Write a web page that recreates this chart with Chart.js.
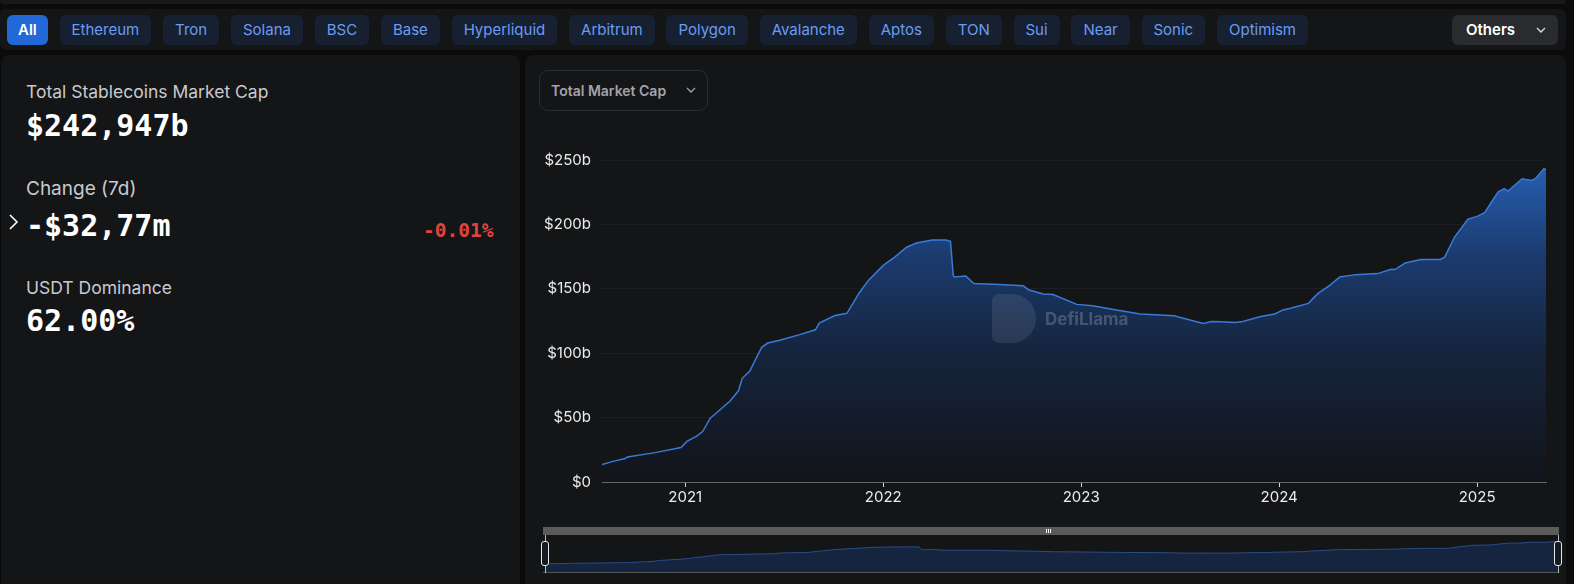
<!DOCTYPE html>
<html>
<head>
<meta charset="utf-8">
<script src="https://cdn.jsdelivr.net/npm/chart.js@4/dist/chart.umd.min.js"></script>
<style>
  html, body { margin: 0; padding: 0; width: 1574px; height: 584px; overflow: hidden; background: #0b0b0c; font-family: Inter, 'Noto Sans', sans-serif; }
  .strip { position: absolute; left: 0; top: 0; width: 1566px; height: 4px; background: #17181a; border-radius: 0 0 6px 6px; }
  .chains { position: absolute; left: 0; top: 9px; width: 1566px; height: 41px; background: #141517; border-radius: 6px; }
  .chains .row { position: absolute; left: 7px; top: 6px; display: flex; gap: 11.8px; }
  .btn { height: 30px; line-height: 30px; padding: 0 12px; border-radius: 6px; background: #172031; color: #6a9cf0; font-size: 15px; white-space: nowrap; }
  .btn.on { background: #2169d6; color: #fff; font-weight: 600; padding: 0 11px; }
  .others { position: absolute; left: 1452px; top: 6px; width: 106px; height: 30px; line-height: 30px; border-radius: 6px; background: #2a2b2e; color: #fff; font-size: 15px; font-weight: 600; }
  .others span { position: absolute; left: 14px; }
  .others svg { position: absolute; left: 84px; top: 11px; }
  .panel { position: absolute; top: 55px; height: 540px; background: #141517; border-radius: 8px; }
  .lbl { position: absolute; left: 26px; font-size: 17.5px; color: #c9cacd; line-height: 20px; white-space: nowrap; }
  .val { position: absolute; left: 26px; font-family: 'DejaVu Sans Mono', monospace; font-weight: bold; font-size: 30px; line-height: 34px; color: #fff; white-space: nowrap; }
  .pct { position: absolute; font-family: 'DejaVu Sans Mono', monospace; font-weight: bold; font-size: 19.5px; line-height: 24px; color: #e0433f; }
  .dropdown { position: absolute; left: 539px; top: 70px; width: 167px; height: 39px; border: 1px solid #2b2c30; border-radius: 9px; color: #a3a4a8; font-size: 14px; font-weight: 600; line-height: 39px; }
  .dropdown span { position: absolute; left: 11px; }
  .dropdown svg { position: absolute; left: 146px; top: 16px; }
  #main { position: absolute; left: 530px; top: 140px; width: 1030px; height: 375px; }
  .mark { position: absolute; left: 992px; top: 294px; pointer-events: none; }
  .mark .logo { position: absolute; left: 0; top: 0; width: 44px; height: 49px; border-radius: 7px 25px 25px 7px; background: rgba(255,255,255,0.09); }
  .mark .name { position: absolute; left: 53px; top: 15px; font-size: 17px; font-weight: 700; color: rgba(255,255,255,0.2); white-space: nowrap; }
  .sbar { position: absolute; left: 543px; top: 527px; width: 1016px; height: 8px; background: #5b5b5c; }
  .sbar i { position: absolute; left: 503px; top: 2px; width: 1px; height: 4px; background: #fff; }
  .sbox { position: absolute; left: 543px; top: 535px; width: 1016px; height: 37px; border-bottom: 1px solid #555; }
  #mini { position: absolute; left: 545px; top: 535px; width: 1013px; height: 37px; }
  .edge { position: absolute; top: 535px; width: 1px; height: 38px; background: #bbb; }
  .handle { position: absolute; top: 541px; width: 6px; height: 23px; border: 1px solid #e8e8e8; border-radius: 3px; background: #161a22; }
</style>
</head>
<body>
<div class="strip"></div>
<div class="chains">
  <div class="row" id="chainRow"></div>
  <div class="others"><span>Others</span><svg width="10" height="8" viewBox="0 0 10 8"><polyline points="1,2 5,6 9,2" fill="none" stroke="#ddd" stroke-width="1.3"/></svg></div>
</div>

<div class="panel" style="left:1px;width:519px;"></div>
<div class="panel" style="left:525px;width:1041px;"></div>

<div class="lbl" style="top:82px;">Total Stablecoins Market Cap</div>
<div class="val" style="top:109px;">$242,947b</div>
<div class="lbl" style="top:179px;font-size:19px;">Change (7d)</div>
<svg style="position:absolute;left:8px;top:214px;" width="12" height="16" viewBox="0 0 12 16"><polyline points="2,1 9,8 2,15" fill="none" stroke="#fff" stroke-width="1.6"/></svg>
<div class="val" style="top:209px;">-$32,77m</div>
<div class="pct" style="top:219px;left:423px;">-0.01%</div>
<div class="lbl" style="top:278px;">USDT Dominance</div>
<div class="val" style="top:304px;">62.00%</div>

<div class="dropdown"><span>Total Market Cap</span><svg width="10" height="7" viewBox="0 0 10 7"><polyline points="1,1 5,5 9,1" fill="none" stroke="#a3a4a8" stroke-width="1.3"/></svg></div>

<div id="main"><canvas id="chart"></canvas></div>
<div class="mark"><div class="logo"></div><div class="name">DefiLlama</div></div>

<div class="sbar"><i></i><i style="left:505px"></i><i style="left:507px"></i></div>
<div class="sbox"></div>
<div id="mini"><canvas id="miniChart"></canvas></div>
<div class="edge" style="left:545px"></div>
<div class="edge" style="left:1558px"></div>
<div class="handle" style="left:541px"></div>
<div class="handle" style="left:1554px"></div>

<script>
const chains = ['All', 'Ethereum', 'Tron', 'Solana', 'BSC', 'Base', 'Hyperliquid', 'Arbitrum', 'Polygon', 'Avalanche', 'Aptos', 'TON', 'Sui', 'Near', 'Sonic', 'Optimism'];

// total stablecoin market cap, billions USD
const dates = [
  '2020-07-31', '2020-08-22', '2020-09-12', '2020-09-16', '2020-11-06', '2020-12-24',
  '2021-01-04', '2021-01-22', '2021-02-02', '2021-02-16', '2021-03-03', '2021-03-25',
  '2021-04-09', '2021-04-16', '2021-04-30', '2021-05-11', '2021-05-22', '2021-06-02',
  '2021-06-24', '2021-07-31', '2021-08-29', '2021-09-05', '2021-10-04', '2021-10-26',
  '2021-11-17', '2021-12-05', '2022-01-01', '2022-01-22', '2022-02-13', '2022-03-03',
  '2022-04-01', '2022-04-27', '2022-05-05', '2022-05-10', '2022-05-12', '2022-06-02',
  '2022-06-17', '2022-08-03', '2022-09-16', '2022-09-27', '2022-10-23', '2022-11-10',
  '2022-12-24', '2023-01-22', '2023-03-07', '2023-04-20', '2023-06-21', '2023-08-14',
  '2023-08-29', '2023-09-16', '2023-10-12', '2023-10-26', '2023-11-28', '2023-12-24',
  '2024-01-08', '2024-01-22', '2024-02-24', '2024-03-13', '2024-04-04', '2024-04-22',
  '2024-05-21', '2024-07-01', '2024-07-26', '2024-08-02', '2024-08-21', '2024-09-19',
  '2024-10-25', '2024-11-02', '2024-11-20', '2024-12-15', '2025-01-01', '2025-01-15',
  '2025-01-26', '2025-02-09', '2025-02-20', '2025-02-27', '2025-03-25', '2025-04-12',
  '2025-04-20', '2025-05-04', '2025-05-08'
];
const marketCap = [
  13.6, 16.2, 18.2, 19.5, 22.8, 26.7,
  31.5, 35.6, 39.2, 49.5, 54.9, 63.1,
  70.8, 80.5, 86.2, 95.6, 104.6, 107.9,
  110.0, 114.4, 118.2, 123.3, 129.2, 131.0,
  146.4, 156.7, 168.2, 174.6, 182.3, 185.6,
  187.9, 187.9, 186.9, 160.5, 159.2, 160.0,
  154.1, 153.3, 152.3, 149.0, 145.9, 145.6,
  137.9, 136.9, 133.6, 130.5, 129.0, 123.1,
  124.6, 124.4, 123.8, 124.6, 128.5, 130.5,
  133.6, 134.9, 138.7, 146.4, 152.8, 159.2,
  161.0, 161.8, 165.1, 164.9, 170.0, 172.8,
  172.8, 174.6, 190.0, 204.1, 206.2, 209.2,
  216.4, 225.2, 227.7, 225.9, 235.4, 234.1,
  236.2, 243.1, 242.9
];
const yearTicks = [2021, 2022, 2023, 2024, 2025];
const capTicks = [0, 50, 100, 150, 200, 250];

const row = document.getElementById('chainRow');
chains.forEach((c, i) => {
  const b = document.createElement('div');
  b.className = i === 0 ? 'btn on' : 'btn';
  b.textContent = c;
  row.appendChild(b);
});

function toYear(s) {
  const [y, m, d] = s.split('-').map(Number);
  const start = Date.UTC(y, 0, 1);
  return y + (Date.UTC(y, m - 1, d) - start) / (Date.UTC(y + 1, 0, 1) - start);
}
const points = dates.map((d, i) => ({x: toYear(d), y: marketCap[i]}));
const xMin = points[0].x, xMax = points[points.length - 1].x;

const axisFont = {family: 'Inter', size: 15};

new Chart(document.getElementById('chart').getContext('2d'), {
  type: 'line',
  data: {datasets: [{
    data: points,
    borderColor: '#3a7ad8',
    borderWidth: 1.5,
    pointRadius: 0,
    fill: 'origin',
    backgroundColor: c => {
      const area = c.chart.chartArea;
      if (!area) return 'transparent';
      const g = c.chart.ctx.createLinearGradient(0, area.top, 0, area.bottom);
      g.addColorStop(0, '#2760b8');
      g.addColorStop(0.3, '#1b3b6e');
      g.addColorStop(0.6, '#15243d');
      g.addColorStop(1, '#121419');
      return g;
    }
  }]},
  options: {
    responsive: true, maintainAspectRatio: false, animation: false,
    layout: {padding: {top: 14, right: 14}},
    plugins: {legend: {display: false}, tooltip: {enabled: false}},
    scales: {
      x: {
        type: 'linear', min: xMin, max: xMax,
        afterBuildTicks: s => { s.ticks = yearTicks.map(v => ({value: v})); },
        afterFit: s => { s.height = 33; },
        grid: {drawOnChartArea: false, tickLength: 5, tickColor: '#d5d5d5'},
        border: {color: '#66676b'},
        ticks: {color: '#ececec', font: axisFont, padding: 1, maxRotation: 0, callback: v => String(v)}
      },
      y: {
        min: 0, max: 250,
        afterBuildTicks: s => { s.ticks = capTicks.map(v => ({value: v})); },
        afterFit: s => { s.width = 72; },
        grid: {color: '#1e1f22', drawTicks: false},
        border: {display: false},
        ticks: {color: '#ececec', font: axisFont, padding: 11, callback: v => v === 0 ? '$0' : '$' + v + 'b'}
      }
    }
  }
});

new Chart(document.getElementById('miniChart').getContext('2d'), {
  type: 'line',
  data: {datasets: [{
    data: points, borderColor: '#2b4c86', borderWidth: 1, pointRadius: 0,
    fill: 'start', backgroundColor: '#15243f'
  }]},
  options: {
    responsive: true, maintainAspectRatio: false, animation: false,
    layout: {padding: 0},
    plugins: {legend: {display: false}, tooltip: {enabled: false}},
    scales: {
      x: {type: 'linear', min: xMin, max: xMax, display: false},
      y: {min: -70, max: 310, display: false}
    }
  }
});
</script>
</body>
</html>
